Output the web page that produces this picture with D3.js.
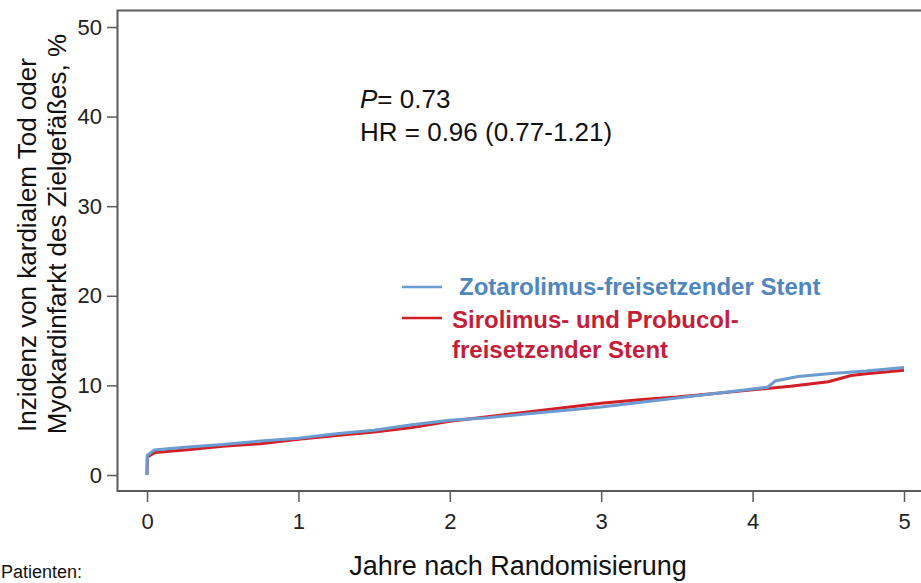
<!DOCTYPE html>
<html>
<head>
<meta charset="utf-8">
<script src="https://cdn.jsdelivr.net/npm/d3@7"></script>
<style>
  body { margin: 0; background: #fff; }
  svg { display: block; font-family: "Liberation Sans", Arial, sans-serif; }
</style>
</head>
<body>
<div id="chart"></div>
<script>
const width = 921;
const height = 583;

// data (years, cumulative incidence %)
const yTicks = [0, 10, 20, 30, 40, 50];
const xTicks = [0, 1, 2, 3, 4, 5];
const zotaT = [0, 0.002, 0.05, 0.25, 0.5, 0.75, 1, 1.25, 1.5, 1.75, 2, 2.25, 2.5, 2.75, 3, 3.25, 3.5, 3.75, 4, 4.1, 4.15, 4.3, 4.5, 4.75, 5];
const zotaV = [0, 2.2, 2.8, 3.1, 3.4, 3.8, 4.1, 4.6, 5.0, 5.6, 6.1, 6.4, 6.8, 7.2, 7.6, 8.1, 8.6, 9.1, 9.6, 9.8, 10.5, 11.0, 11.3, 11.6, 12.0];
const siroT = [0, 0.002, 0.05, 0.25, 0.5, 0.75, 1, 1.25, 1.5, 1.75, 2, 2.25, 2.5, 2.75, 3, 3.25, 3.5, 3.75, 4, 4.25, 4.5, 4.65, 4.75, 5];
const siroV = [0, 2.0, 2.5, 2.8, 3.2, 3.5, 4.0, 4.4, 4.8, 5.3, 6.0, 6.5, 7.0, 7.5, 8.0, 8.4, 8.7, 9.1, 9.5, 9.9, 10.4, 11.1, 11.3, 11.7];
const seriesNames = ['Zotarolimus-freisetzender Stent', 'Sirolimus- und Probucol-', 'freisetzender Stent'];

const blue = '#6b9bd0';
const red = '#d21f26';

const x = d3.scaleLinear().domain([0, 5]).range([147, 904]);
const y = d3.scaleLinear().domain([0, 50]).range([475, 27]);

const svg = d3.select('#chart').append('svg')
    .attr('width', width)
    .attr('height', height);

// frame (left, top, bottom)
const axisColor = '#5a5a5a';
svg.append('path')
    .attr('d', `M${width + 5},10.5 H117.5 V491 H${width + 5}`)
    .style('fill', 'none')
    .style('stroke', axisColor)
    .style('stroke-width', 2);

// y axis ticks
const gy = svg.append('g').attr('transform', 'translate(117,0)')
    .call(d3.axisLeft(y).tickValues(yTicks).tickSize(10).tickPadding(5).tickFormat(d3.format('d')));
gy.select('.domain').remove();
gy.selectAll('line').style('stroke', axisColor).style('stroke-width', 1.5);
gy.selectAll('text').style('font-size', '22px').style('fill', '#222');

// x axis ticks
const gx = svg.append('g').attr('transform', 'translate(0,491)')
    .call(d3.axisBottom(x).tickValues(xTicks).tickSize(11).tickPadding(11).tickFormat(d3.format('d')));
gx.select('.domain').remove();
gx.selectAll('line').style('stroke', axisColor).style('stroke-width', 1.5);
gx.selectAll('text').style('font-size', '22px').style('fill', '#222');

// curves
const line = d3.line()
    .x(d => x(d[0]))
    .y(d => y(d[1]));

svg.append('path')
    .datum(d3.zip(siroT, siroV))
    .attr('d', line)
    .style('fill', 'none')
    .style('stroke', red)
    .style('stroke-width', 3);

svg.append('path')
    .datum(d3.zip(zotaT, zotaV))
    .attr('d', line)
    .style('fill', 'none')
    .style('stroke', blue)
    .style('stroke-width', 3);

// stats text
svg.append('text')
    .attr('x', 360).attr('y', 108)
    .style('font-size', '26px').style('fill', '#111')
    .html('<tspan font-style="italic">P</tspan>= 0.73');
svg.append('text')
    .attr('x', 360).attr('y', 141)
    .style('font-size', '26px').style('fill', '#111')
    .text('HR = 0.96 (0.77-1.21)');

// legend
svg.append('line')
    .attr('x1', 402).attr('x2', 442).attr('y1', 287).attr('y2', 287)
    .style('stroke', blue).style('stroke-width', 2.5);
svg.append('line')
    .attr('x1', 402).attr('x2', 442).attr('y1', 318).attr('y2', 318)
    .style('stroke', red).style('stroke-width', 2.5);

svg.append('text')
    .attr('x', 459).attr('y', 295)
    .style('font-size', '24px').style('font-weight', 'bold').style('fill', '#4f86bd')
    .text(seriesNames[0]);
svg.append('text')
    .attr('x', 452).attr('y', 328)
    .style('font-size', '24px').style('font-weight', 'bold').style('fill', '#c41e3a')
    .text(seriesNames[1]);
svg.append('text')
    .attr('x', 452).attr('y', 358)
    .style('font-size', '24px').style('font-weight', 'bold').style('fill', '#c41e3a')
    .text(seriesNames[2]);

// axis titles
svg.append('text')
    .attr('x', 518).attr('y', 575)
    .attr('text-anchor', 'middle')
    .style('font-size', '27px').style('fill', '#111')
    .text('Jahre nach Randomisierung');

const yTitle = svg.append('text')
    .attr('transform', 'translate(0,240) rotate(-90)')
    .attr('text-anchor', 'middle')
    .style('font-size', '26px').style('fill', '#111');
yTitle.append('tspan').attr('x', -5).attr('y', 36).text('Inzidenz von kardialem Tod oder');
yTitle.append('tspan').attr('x', 6).attr('y', 66).text('Myokardinfarkt des Zielgefäßes, %');

svg.append('text')
    .attr('x', 1).attr('y', 578)
    .style('font-size', '18px').style('fill', '#111')
    .text('Patienten:');
</script>
</body>
</html>
